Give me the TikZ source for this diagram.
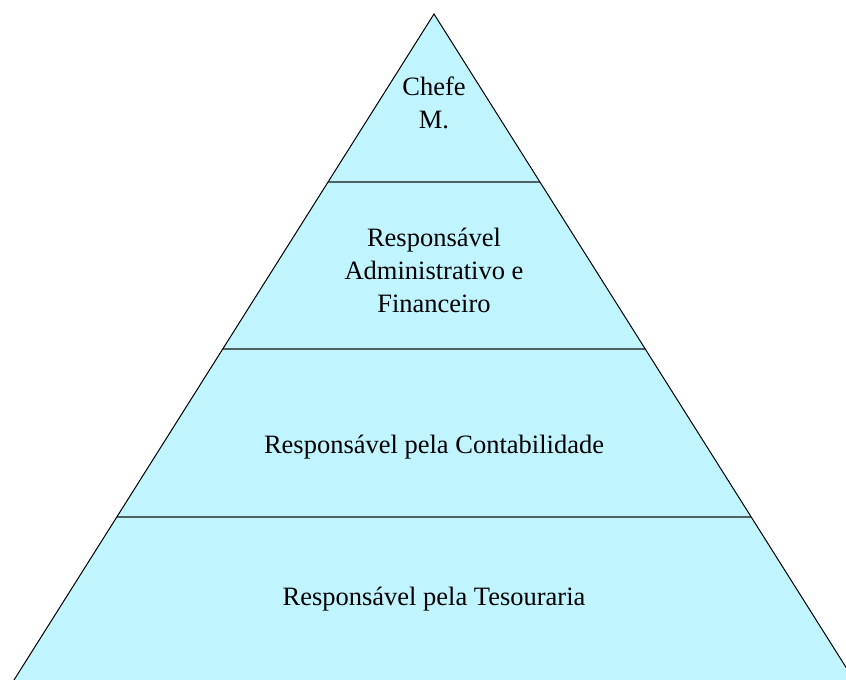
\documentclass[tikz,border=0pt]{standalone}
\usepackage{fontspec}
\setmainfont{Liberation Serif}
\usetikzlibrary{calc}

\definecolor{pyrfill}{RGB}{192,244,255}
\definecolor{pyrline}{RGB}{78,98,102}

\tikzset{
  level/.style={align=center, font=\fontsize{26.5}{33}\selectfont},
  divider/.style={draw=pyrline, line width=2pt}
}

\begin{document}
\begin{tikzpicture}[x=1pt, y=-1pt]
    % --- Frame (pixel units, y downwards) ---
    \useasboundingbox (0,0) rectangle (846,680);

    % --- Coordinates ---
    \coordinate (apex) at (434,14);     % Top
    \coordinate (baseL) at (14,680);    % Bottom Left
    \coordinate (baseR) at (854,680);   % Bottom Right

    % --- Pyramid ---
    \fill[pyrfill] (apex) -- (baseL) -- (baseR) -- cycle;

    % --- Dividers between the levels ---
    \coordinate (l1) at ($(apex)!0.2523!(baseL)$);
    \coordinate (r1) at ($(apex)!0.2523!(baseR)$);
    \coordinate (l2) at ($(apex)!0.5030!(baseL)$);
    \coordinate (r2) at ($(apex)!0.5030!(baseR)$);
    \coordinate (l3) at ($(apex)!0.7553!(baseL)$);
    \coordinate (r3) at ($(apex)!0.7553!(baseR)$);
    \draw[divider] (l1) -- (r1);
    \draw[divider] (l2) -- (r2);
    \draw[divider] (l3) -- (r3);

    % Outline on top
    \draw[line width=1pt] (baseL) -- (apex) -- (baseR);

    % --- Labels ---
    \node[level] (chefe) at (434,103) {Chefe\\M.};
    \node[level] (admin) at (434,270) {Responsável\\Administrativo e\\Financeiro};
    \node[level] (conta) at (434,447) {Responsável pela Contabilidade};
    \node[level] (tesou) at (434,599) {Responsável pela Tesouraria};

\end{tikzpicture}
\end{document}
